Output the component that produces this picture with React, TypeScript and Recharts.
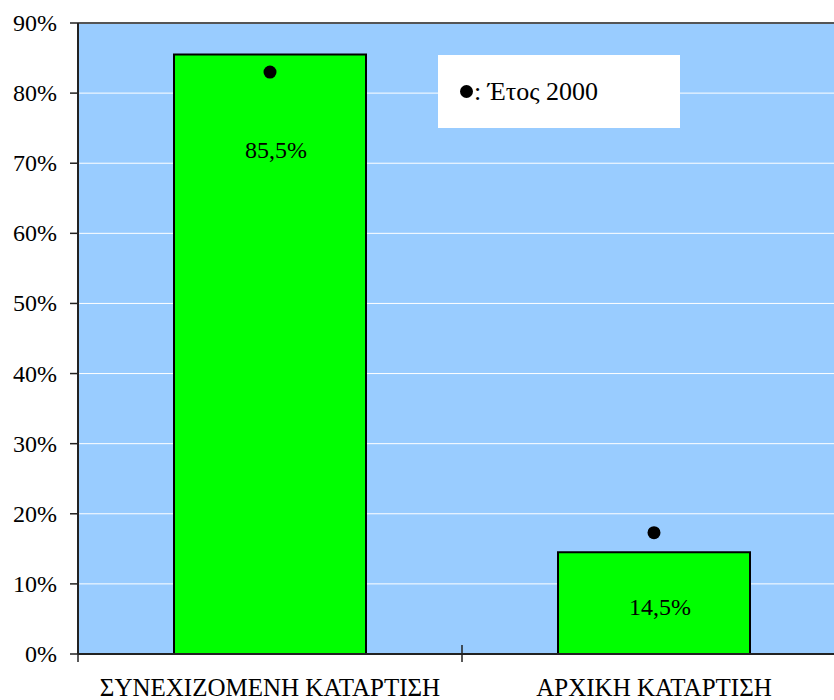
import React from 'react';
import {
  ComposedChart,
  Bar,
  Line,
  XAxis,
  YAxis,
  CartesianGrid,
  ReferenceLine,
  LabelList,
} from 'recharts';

const categories = ['ΣΥΝΕΧΙΖΟΜΕΝΗ ΚΑΤΑΡΤΙΣΗ', 'ΑΡΧΙΚΗ ΚΑΤΑΡΤΙΣΗ'];
const shareValues = [85.5, 14.5];
const year2000Values = [83, 17.3];
const yTicks = [0, 10, 20, 30, 40, 50, 60, 70, 80, 90];
const legendLabel = ': Έτος 2000';

const data = categories.map((name, i) => ({
  name,
  value: shareValues[i],
  y2000: year2000Values[i],
}));

const CHART_W = 856;
const CHART_H = 700;
const MARGIN = { top: 23, right: 10, bottom: 0, left: 0 };
const Y_AXIS_W = 78;
const X_AXIS_H = 46;
const FONT = 'Liberation Serif, serif';

const plotWidth = CHART_W - MARGIN.left - MARGIN.right - Y_AXIS_W;
const fallbackHalfBand = plotWidth / categories.length / 2;

const XTick = (props: any) => {
  const { x, y, payload, index } = props;
  const half =
    payload && typeof payload.offset === 'number' && payload.offset > 0
      ? payload.offset
      : fallbackHalfBand;
  const left = x - half;
  const right = x + half;
  return (
    <g>
      <line x1={left} x2={left} y1={y - 9} y2={y + 8} stroke="#222" strokeWidth={1.5} />
      {index === categories.length - 1 && (
        <line x1={right} x2={right} y1={y - 9} y2={y + 8} stroke="#222" strokeWidth={1.5} />
      )}
      <text
        x={x}
        y={y + 42}
        textAnchor="middle"
        fill="#000"
        style={{ fontFamily: FONT, fontSize: 25 }}
      >
        {payload.value}
      </text>
    </g>
  );
};

const YTick = (props: any) => {
  const { x, y, payload } = props;
  return (
    <text
      x={x}
      y={y}
      dy={8}
      textAnchor="end"
      fill="#000"
      style={{ fontFamily: FONT, fontSize: 24 }}
    >
      {`${payload.value}%`}
    </text>
  );
};

const BarLabel = (props: any) => {
  const { x, y, width, value, index } = props;
  const dy = index === 0 ? 103 : 63;
  return (
    <text
      x={Number(x) + Number(width) / 2 + 6}
      y={Number(y) + dy}
      textAnchor="middle"
      fill="#000"
      style={{ fontFamily: FONT, fontSize: 24 }}
    >
      {String(value).replace('.', ',') + '%'}
    </text>
  );
};

export default function App() {
  return (
    <div
      style={{
        position: 'absolute',
        left: 0,
        top: 0,
        width: 834,
        height: 700,
        overflow: 'hidden',
        background: '#fff',
        fontFamily: FONT,
      }}
    >
      <ComposedChart
        width={CHART_W}
        height={CHART_H}
        data={data}
        margin={MARGIN}
        barCategoryGap="25%"
        style={{ fontFamily: FONT }}
      >
        <CartesianGrid
          vertical={false}
          horizontal
          stroke="#ffffff"
          strokeWidth={1}
          fill="#99CCFF"
          fillOpacity={1}
        />
        <XAxis
          dataKey="name"
          height={X_AXIS_H}
          tickLine={false}
          tickSize={0}
          tickMargin={0}
          axisLine={{ stroke: '#222', strokeWidth: 2 }}
          tick={<XTick />}
          interval={0}
        />
        <YAxis
          width={Y_AXIS_W}
          domain={[0, 90]}
          ticks={yTicks}
          interval={0}
          tick={<YTick />}
          tickSize={8}
          tickMargin={13}
          tickLine={{ stroke: '#222', strokeWidth: 1.5 }}
          axisLine={{ stroke: '#222', strokeWidth: 2 }}
        />
        <ReferenceLine y={90} stroke="#555" strokeWidth={2} ifOverflow="extendDomain" />
        <Bar
          dataKey="value"
          fill="#00FF00"
          stroke="#000"
          strokeWidth={2}
          isAnimationActive={false}
        >
          <LabelList dataKey="value" content={<BarLabel />} />
        </Bar>
        <Line
          dataKey="y2000"
          stroke="none"
          dot={{ r: 6.5, fill: '#000', stroke: 'none' }}
          activeDot={false}
          isAnimationActive={false}
          legendType="none"
        />
      </ComposedChart>
      <div
        style={{
          position: 'absolute',
          left: 438,
          top: 55,
          width: 242,
          height: 73,
          background: '#fff',
          display: 'flex',
          alignItems: 'center',
          paddingLeft: 22,
          boxSizing: 'border-box',
          fontSize: 26,
          color: '#000',
        }}
      >
        <span
          style={{
            display: 'inline-block',
            width: 13,
            height: 13,
            borderRadius: '50%',
            background: '#000',
            marginRight: 1,
          }}
        />
        <span>{legendLabel}</span>
      </div>
    </div>
  );
}
